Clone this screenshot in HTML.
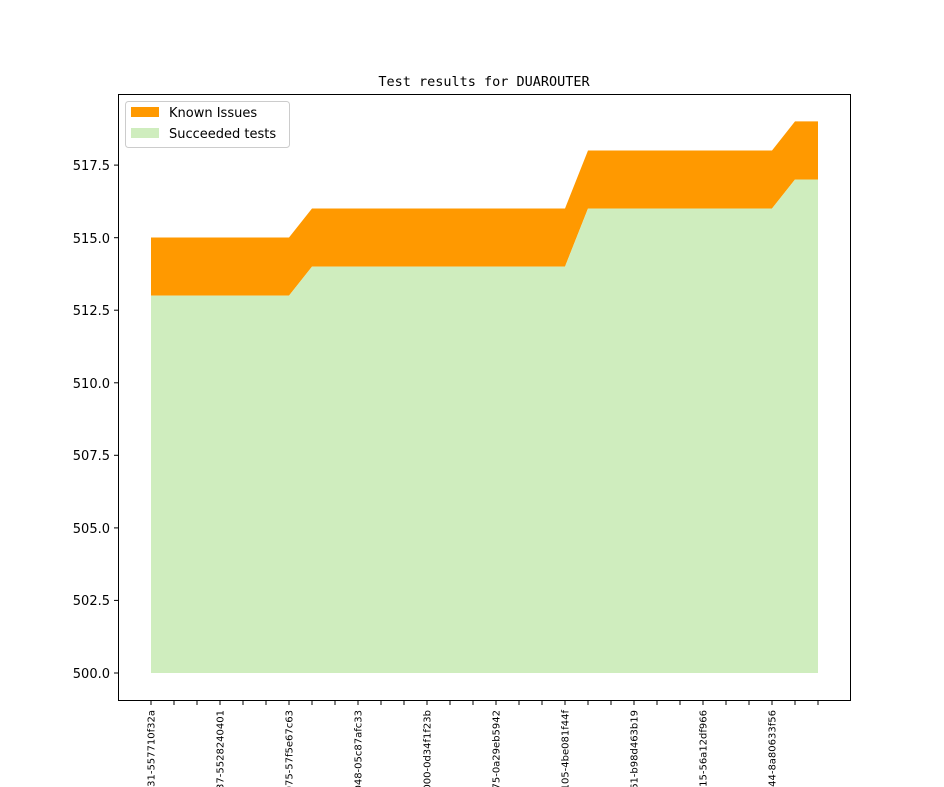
<!DOCTYPE html>
<html><head><meta charset="utf-8"><style>html,body{margin:0;background:#fff;width:944px;height:787px;overflow:hidden}svg{display:block}</style></head><body>
<svg width="944" height="787" xmlns="http://www.w3.org/2000/svg" font-family="DejaVu Sans, Liberation Sans, sans-serif" style="overflow:hidden">
<rect width="944" height="787" fill="#fff"/>
<polygon fill="#ff9900" points="151,237.5 289,237.5 312,208.5 565,208.5 588,150.5 772,150.5 795,121.4 818,121.4 818,179.5 795,179.5 772,208.5 588,208.5 565,266.6 312,266.6 289,295.6 151,295.6"/>
<polygon fill="#cfedbe" points="151,295.6 289,295.6 312,266.6 565,266.6 588,208.5 772,208.5 795,179.5 818,179.5 818,673 151,673"/>
<rect x="118.5" y="94.5" width="732" height="606" fill="none" stroke="#000" stroke-width="1"/>
<g stroke="#000" stroke-width="1">
<line x1="114" x2="118" y1="673" y2="673"/><line x1="114" x2="118" y1="600.4" y2="600.4"/><line x1="114" x2="118" y1="527.9" y2="527.9"/><line x1="114" x2="118" y1="455.3" y2="455.3"/><line x1="114" x2="118" y1="382.8" y2="382.8"/><line x1="114" x2="118" y1="310.2" y2="310.2"/><line x1="114" x2="118" y1="237.7" y2="237.7"/><line x1="114" x2="118" y1="165.1" y2="165.1"/>
</g>
<g font-size="13" text-anchor="end" fill="#000">
<text x="110" y="678">500.0</text><text x="110" y="605">502.5</text><text x="110" y="533">505.0</text><text x="110" y="460">507.5</text><text x="110" y="388">510.0</text><text x="110" y="315">512.5</text><text x="110" y="243">515.0</text><text x="110" y="170">517.5</text>
</g>
<g stroke="#000" stroke-width="1" id="xt"></g>
<g font-size="10" text-anchor="end" fill="#000" id="xl"></g>
<text x="484" y="86" font-family="DejaVu Sans Mono, Liberation Mono, monospace" font-size="13.5" text-anchor="middle">Test results for DUAROUTER</text>
<rect x="125.5" y="101.5" width="164" height="46" rx="3" fill="#fff" stroke="#ccc"/>
<rect x="131" y="107" width="28" height="10" fill="#ff9900"/>
<text x="169" y="117" font-size="13">Known Issues</text>
<rect x="131" y="128" width="28" height="10" fill="#cfedbe"/>
<text x="169" y="138" font-size="13">Succeeded tests</text>
<script>
var t=document.getElementById('xt'),l=document.getElementById('xl'),ns='http://www.w3.org/2000/svg';
var labs=['0000000-31-557710f32a','0000000-37-5528240401','0000000-075-57f5e67c63','0000000-048-05c87afc33','0000000-000-0d34f1f23b','0000000-75-0a29eb5942','0000000-105-4be081f44f','0000000-61-b98d463b19','0000000-15-56a12df966','0000000-44-8a80633f56'];
for(var i=0;i<30;i++){var x=151+23*i;var ln=document.createElementNS(ns,'line');ln.setAttribute('x1',x);ln.setAttribute('x2',x);ln.setAttribute('y1',701);ln.setAttribute('y2',705);t.appendChild(ln);
if(i%3==0){var tx=document.createElementNS(ns,'text');tx.setAttribute('transform','translate('+(x+3.5)+',710) rotate(-90)');tx.textContent=labs[i/3];l.appendChild(tx);}}
</script>
</svg>
</body></html>
